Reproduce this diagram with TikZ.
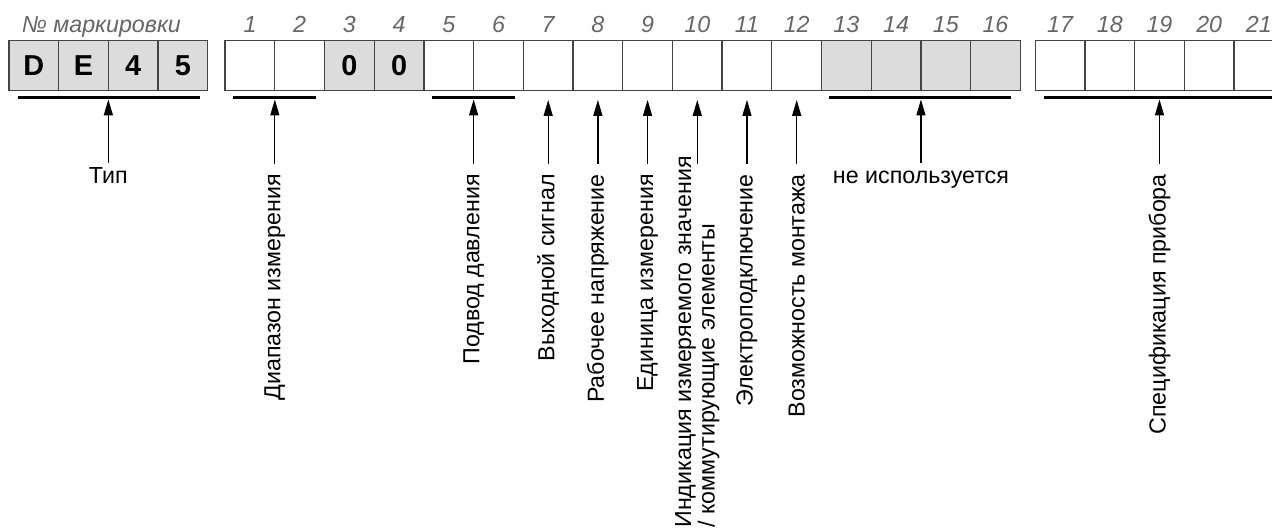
\documentclass[tikz,border=0pt]{standalone}
\usepackage{fontspec}
\setmainfont{Liberation Sans}
\usepackage[HTML]{xcolor}
\usetikzlibrary{positioning, arrows.meta}
\definecolor{boxline}{HTML}{444444}
\definecolor{boxfill}{HTML}{DCDCDC}
\definecolor{numgray}{HTML}{666666}

\begin{document}
\begin{tikzpicture}[
  cell/.style={draw=boxline, line width=0.75pt, minimum size=1cm, inner sep=0pt, font=\fontsize{16.5}{18}\selectfont\bfseries},
  grey/.style={cell, fill=boxfill},
  num/.style={anchor=base, text=numgray, font=\fontsize{13.3}{15}\selectfont\itshape},
  bar/.style={line width=1.7pt},
  arr/.style={-{Triangle[length=0.32cm, width=0.18cm]}, line width=0.75pt},
  vlbl/.style={rotate=90, anchor=east, inner sep=0.2cm, font=\fontsize{13.3}{15}\selectfont},
  hlbl/.style={anchor=north, inner sep=0.08cm, text height=9.5pt, font=\fontsize{13.3}{15}\selectfont}
]
\clip (0,0) rectangle (25.594,-10.644);

% type group
\node[num] (nmark) at (2.04,-0.645) {№ маркировки};
\foreach \t [count=\i] in {D,E,4,5}
  \node[grey] (t\i) at (\i-0.32,-1.32) {\t};

% positions 1..16
\foreach \k in {1,2,5,6,7,8,9,10,11,12}
  \node[cell] (b\k) at (4.03+\k,-1.32) {};
\node[grey] (b3) at (7.03,-1.32) {0};
\node[grey] (b4) at (8.03,-1.32) {0};
\foreach \k in {13,14,15,16}
  \node[grey] (b\k) at (4.03+\k,-1.32) {};
\foreach \k in {1,...,16}
  \node[num] (n\k) at (4.03+\k,-0.645) {\k};

% positions 17..21
\foreach \k in {17,...,21} {
  \node[cell] (b\k) at (4.33+\k,-1.32) {};
  \node[num] (n\k) at (4.33+\k,-0.645) {\k};
}

% bars under groups
\draw[bar] (0.36,-1.97) -- (4.02,-1.97);
\draw[bar] (4.69,-1.97) -- (6.36,-1.97);
\draw[bar] (8.69,-1.97) -- (10.36,-1.97);
\draw[bar] (16.69,-1.97) -- (20.35,-1.97);
\draw[bar] (21.0,-1.97) -- (26.0,-1.97);

\coordinate (ptyp) at (2.18,-2.0);
\coordinate (prng) at (5.53,-2.0);
\coordinate (pcon) at (9.53,-2.0);
\coordinate (pout) at (11.03,-2.01);
\coordinate (pvol) at (12.03,-2.01);
\coordinate (punit) at (13.03,-2.01);
\coordinate (pind) at (14.03,-2.01);
\coordinate (pel) at (15.03,-2.01);
\coordinate (pmnt) at (16.03,-2.01);
\coordinate (pfree) at (18.53,-2.0);
\coordinate (pspec) at (23.33,-2.0);

% labels
\node[hlbl] (ltyp) at (2.18,-3.28) {Тип};
\node[vlbl] (lrng) at (5.53,-3.30) {Диапазон измерения};
\node[vlbl] (lcon) at (9.53,-3.30) {Подвод давления};
\node[vlbl] (lout) at (11.03,-3.30) {Выходной сигнал};
\node[vlbl] (lvol) at (12.03,-3.30) {Рабочее напряжение};
\node[vlbl] (lunit) at (13.03,-3.30) {Единица измерения};
\node[vlbl, align=left, font=\fontsize{13.3}{12.3}\selectfont] (lind) at (14.03,-2.94)
  {Индикация измеряемого значения\\/ коммутирующие элементы};
\coordinate (qind) at (14.03,-3.30);
\node[vlbl] (lel) at (15.03,-3.30) {Электроподключение};
\node[vlbl] (lmnt) at (16.03,-3.30) {Возможность монтажа};
\node[hlbl] (lfree) at (18.53,-3.28) {не используется};
\node[vlbl] (lspec) at (23.33,-3.30) {Спецификация прибора};

\draw[arr] (ltyp) -- (ptyp);
\draw[arr] (lrng) -- (prng);
\draw[arr] (lcon) -- (pcon);
\draw[arr] (lout) -- (pout);
\draw[arr] (lvol) -- (pvol);
\draw[arr] (lunit) -- (punit);
\draw[arr] (qind) -- (pind);
\draw[arr] (lel) -- (pel);
\draw[arr] (lmnt) -- (pmnt);
\draw[arr] (lfree) -- (pfree);
\draw[arr] (lspec) -- (pspec);
\end{tikzpicture}
\end{document}
